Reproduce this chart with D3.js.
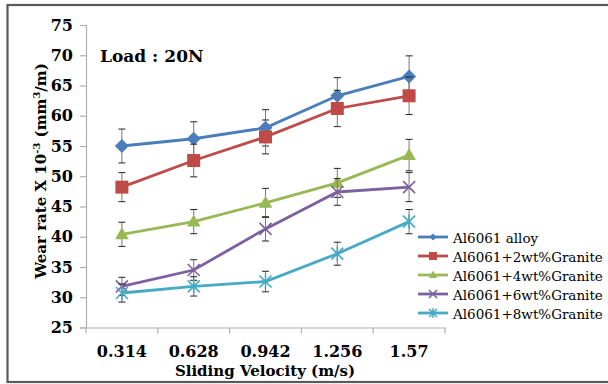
<!DOCTYPE html>
<html>
<head>
<meta charset="utf-8">
<script src="https://cdn.jsdelivr.net/npm/d3@7/dist/d3.min.js"></script>
<style>
  html, body { margin: 0; padding: 0; background: #fff; }
  svg { display: block; }
  text { font-family: "DejaVu Serif", "Liberation Serif", serif; }
</style>
</head>
<body>
<svg id="chart" width="608" height="384"></svg>
<script>
// Sliding velocity categories (m/s)
const velocities = ["0.314", "0.628", "0.942", "1.256", "1.57"];

// Wear rate (x10^-3 mm^3/m) per composition, with error bar half-widths
const seriesNames = [
  "Al6061 alloy",
  "Al6061+2wt%Granite",
  "Al6061+4wt%Granite",
  "Al6061+6wt%Granite",
  "Al6061+8wt%Granite"
];
const alloy0   = [55.0, 56.2, 58.0, 63.3, 66.5];
const granite2 = [48.2, 52.6, 56.5, 61.2, 63.3];
const granite4 = [40.4, 42.5, 45.6, 48.9, 53.5];
const granite6 = [31.8, 34.5, 41.3, 47.4, 48.2];
const granite8 = [30.7, 31.8, 32.6, 37.2, 42.5];

const err0 = [2.8, 2.8, 3.0, 3.0, 3.4];
const err2 = [2.4, 2.7, 2.8, 3.0, 3.1];
const err4 = [2.0, 2.0, 2.4, 2.4, 2.6];
const err6 = [1.5, 1.7, 2.0, 2.2, 2.4];
const err8 = [1.5, 1.6, 1.7, 1.9, 2.0];

const yTicks = [25, 30, 35, 40, 45, 50, 55, 60, 65, 70, 75];

const seriesValues = [alloy0, granite2, granite4, granite6, granite8];
const seriesErrors = [err0, err2, err4, err6, err8];
const colors = ["#4a7ebb", "#be4b48", "#98b954", "#7d60a0", "#46aac5"];
const markerKinds = ["diamond", "square", "triangle", "x", "star"];

const svg = d3.select("#chart");

// outer frame
svg.append("rect")
  .attr("x", 7.5).attr("y", 5).attr("width", 620).attr("height", 377)
  .attr("fill", "none").attr("stroke", "#5a5a5a").attr("stroke-width", 2.2);

const plot = { left: 86, right: 445, top: 25, bottom: 327.5 };

const x = d3.scaleBand().domain(velocities).range([plot.left, plot.right]);
const y = d3.scaleLinear().domain([25, 75]).range([plot.bottom, plot.top]);

// y axis
const yAxis = svg.append("g")
  .attr("transform", `translate(${plot.left},0)`)
  .call(d3.axisLeft(y).tickValues(yTicks).tickSize(6).tickPadding(7));
yAxis.select(".domain").attr("stroke", "#b0b0b0").attr("stroke-width", 1.2);
yAxis.selectAll(".tick line").attr("stroke", "#b0b0b0").attr("stroke-width", 1.2);
yAxis.selectAll(".tick text")
  .attr("font-size", 16).attr("font-weight", "bold").attr("fill", "#000")
  .style("font-family", "\"DejaVu Serif\", serif");

// x axis, ticks sit on the category boundaries
const xAxis = svg.append("g")
  .attr("transform", `translate(0,${plot.bottom})`)
  .call(d3.axisBottom(x).tickSize(0).tickPadding(18));
xAxis.select(".domain").attr("stroke", "#b0b0b0").attr("stroke-width", 1.2);
xAxis.selectAll(".tick text")
  .attr("font-size", 16).attr("font-weight", "bold").attr("fill", "#000")
  .style("font-family", "\"DejaVu Serif\", serif");
const boundaries = velocities.map(v => x(v)).concat([x(velocities[velocities.length - 1]) + x.bandwidth()]);
svg.append("g").selectAll("line").data(boundaries).join("line")
  .attr("x1", d => d).attr("x2", d => d)
  .attr("y1", plot.bottom).attr("y2", plot.bottom + 6)
  .attr("stroke", "#b0b0b0").attr("stroke-width", 1.2);

// axis titles
svg.append("text")
  .attr("x", 265).attr("y", 376)
  .attr("text-anchor", "middle")
  .attr("font-size", 15).attr("font-weight", "bold")
  .text("Sliding Velocity (m/s)");

const yTitle = svg.append("text")
  .attr("transform", "translate(45.5,171) rotate(-90)")
  .attr("text-anchor", "middle")
  .attr("font-size", 15).attr("font-weight", "bold");
yTitle.append("tspan").text("Wear rate X 10");
yTitle.append("tspan").attr("dy", -6).attr("font-size", 10).text("-3");
yTitle.append("tspan").attr("dy", 6).text(" (mm");
yTitle.append("tspan").attr("dy", -6).attr("font-size", 10).text("3");
yTitle.append("tspan").attr("dy", 6).text("/m)");

// load annotation
svg.append("text")
  .attr("x", 100).attr("y", 62)
  .attr("font-size", 17).attr("font-weight", "bold")
  .text("Load : 20N");

// marker drawing
function drawMarker(g, kind, color, s) {
  if (kind === "diamond") {
    g.append("path").attr("d", `M0,${-s}L${s},0L0,${s}L${-s},0Z`).attr("fill", color);
  } else if (kind === "square") {
    g.append("rect").attr("x", -s).attr("y", -s).attr("width", 2 * s).attr("height", 2 * s)
      .attr("fill", color);
  } else if (kind === "triangle") {
    g.append("path").attr("d", `M0,${-s * 1.1}L${s * 1.05},${s * 0.75}L${-s * 1.05},${s * 0.75}Z`).attr("fill", color);
  } else if (kind === "x") {
    g.append("path").attr("d", `M${-s},${-s}L${s},${s}M${-s},${s}L${s},${-s}`)
      .attr("stroke", color).attr("stroke-width", 1.6).attr("fill", "none");
  } else if (kind === "star") {
    g.append("path").attr("d", `M${-s},${-s}L${s},${s}M${-s},${s}L${s},${-s}M0,${-s * 1.2}L0,${s * 1.2}`)
      .attr("stroke", color).attr("stroke-width", 1.6).attr("fill", "none");
  }
}
const markerSize = [7, 6.5, 6.5, 6, 6];

const cx = v => x(v) + x.bandwidth() / 2;
const line = d3.line().x((d, i) => cx(velocities[i])).y(d => y(d));

seriesValues.forEach((vals, si) => {
  const g = svg.append("g");
  // error bars
  const eb = g.append("g").attr("stroke", "#222").attr("stroke-width", 1);
  vals.forEach((v, i) => {
    const px = cx(velocities[i]);
    const e = seriesErrors[si][i];
    eb.append("line").attr("x1", px).attr("x2", px).attr("y1", y(v - e)).attr("y2", y(v + e)).attr("stroke", "#777");
    eb.append("line").attr("x1", px - 3.5).attr("x2", px + 3.5).attr("y1", y(v + e)).attr("y2", y(v + e));
    eb.append("line").attr("x1", px - 3.5).attr("x2", px + 3.5).attr("y1", y(v - e)).attr("y2", y(v - e));
  });
  g.append("path").datum(vals).attr("d", line)
    .attr("fill", "none").attr("stroke", colors[si]).attr("stroke-width", 2.8);
  vals.forEach((v, i) => {
    const mg = g.append("g").attr("transform", `translate(${cx(velocities[i])},${y(v)})`);
    drawMarker(mg, markerKinds[si], colors[si], markerSize[si]);
  });
});

// legend
const legend = svg.append("g");
const legendTexts = [];
seriesNames.forEach((name, si) => {
  const ly = 237 + si * 19;
  legend.append("line").attr("x1", 418).attr("x2", 448).attr("y1", ly).attr("y2", ly)
    .attr("stroke", colors[si]).attr("stroke-width", 2.8);
  const mg = legend.append("g").attr("transform", `translate(433,${ly})`);
  drawMarker(mg, markerKinds[si], colors[si], [3.5, 4, 4, 4, 4][si]);
  legendTexts.push(legend.append("text").attr("x", 453).attr("y", ly + 5.5)
    .attr("font-size", 15).attr("fill", "#000").text(name));
});
// size the legend font so the longest entry ends near the right edge
const widest = d3.max(legendTexts, t => t.node().getComputedTextLength());
const legendFont = Math.min(15, 15 * 150 / widest);
legendTexts.forEach(t => t.attr("font-size", legendFont));
</script>
</body>
</html>
